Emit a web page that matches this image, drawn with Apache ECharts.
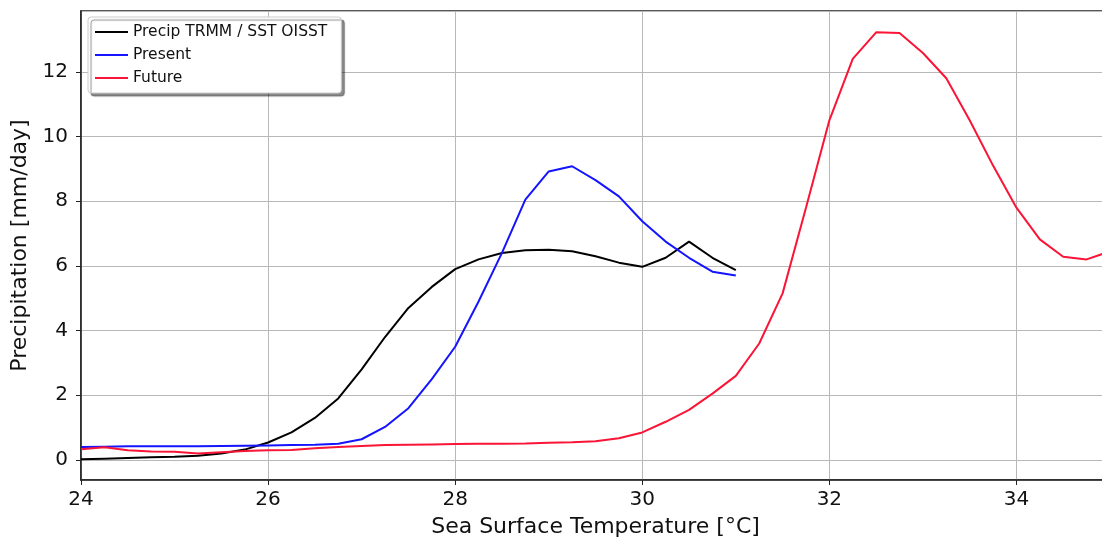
<!DOCTYPE html>
<html>
<head>
<meta charset="utf-8">
<script src="https://cdn.jsdelivr.net/npm/echarts@6/dist/echarts.min.js"></script>
<style>
  html, body { margin: 0; padding: 0; background: #fff; }
  #chart { width: 1102px; height: 543px; }
</style>
</head>
<body>
<div id="chart"></div>
<script>
// SST bins (°C)
var sstObs = [24, 24.25, 24.5, 24.75, 25, 25.25, 25.5, 25.75, 26, 26.25, 26.5, 26.75, 27, 27.25, 27.5, 27.75,
  28, 28.25, 28.5, 28.75, 29, 29.25, 29.5, 29.75, 30, 30.25, 30.5, 30.75, 31];
var sstFuture = [24, 24.25, 24.5, 24.75, 25, 25.25, 25.5, 25.75, 26, 26.25, 26.5, 26.75, 27, 27.25, 27.5, 27.75,
  28, 28.25, 28.5, 28.75, 29, 29.25, 29.5, 29.75, 30, 30.25, 30.5, 30.75, 31, 31.25, 31.5, 31.75,
  32, 32.25, 32.5, 32.75, 33, 33.25, 33.5, 33.75, 34, 34.25, 34.5, 34.75, 35];

// precipitation (mm/day)
var precipTrmm = [0.02, 0.04, 0.06, 0.08, 0.1, 0.13, 0.2, 0.32, 0.54, 0.85, 1.3, 1.9, 2.8, 3.8, 4.7, 5.35,
  5.9, 6.2, 6.4, 6.48, 6.5, 6.45, 6.3, 6.1, 5.97, 6.25, 6.75, 6.25, 5.87];
var precipPresent = [0.4, 0.41, 0.42, 0.42, 0.42, 0.42, 0.43, 0.44, 0.45, 0.46, 0.47, 0.5, 0.64, 1.02, 1.6, 2.5,
  3.5, 4.9, 6.4, 8.05, 8.92, 9.08, 8.65, 8.15, 7.38, 6.75, 6.25, 5.82, 5.7];
var precipFuture = [0.33, 0.39, 0.3, 0.26, 0.25, 0.2, 0.24, 0.28, 0.3, 0.31, 0.36, 0.4, 0.43, 0.46, 0.47, 0.48,
  0.49, 0.5, 0.5, 0.51, 0.53, 0.55, 0.58, 0.67, 0.85, 1.18, 1.55, 2.05, 2.6, 3.6, 5.15, 7.8,
  10.5, 12.4, 13.22, 13.2, 12.58, 11.8, 10.5, 9.1, 7.8, 6.82, 6.28, 6.2, 6.45];

var seriesNames = ['Precip TRMM / SST OISST', 'Present', 'Future'];
var seriesColors = ['#000000', '#1414ff', '#fa1436'];

function pairs(xs, ys) {
  var out = [];
  for (var i = 0; i < ys.length; i++) out.push([xs[i], ys[i]]);
  return out;
}

var font = 'DejaVu Sans';
var chart = echarts.init(document.getElementById('chart'), null, { renderer: 'canvas' });

var option = {
  animation: false,
  backgroundColor: '#fff',
  grid: {
    left: 81, top: 11, right: -8, bottom: 63,
    outerBoundsMode: 'none',
    containLabel: false,
    show: true, borderColor: '#222', borderWidth: 1.5
  },
  legend: {
    orient: 'vertical',
    left: 88, top: 17,
    padding: [7, 14, 7, 7],
    itemGap: 7,
    itemWidth: 33, itemHeight: 2,
    itemTextGap: 11,
    icon: 'rect',
    backgroundColor: '#fff',
    borderColor: '#cccccc', borderWidth: 1, borderRadius: 3,
    shadowColor: 'rgba(0,0,0,0.45)', shadowOffsetX: 3, shadowOffsetY: 3, shadowBlur: 1,
    textStyle: { fontFamily: font, fontSize: 15.5, color: '#111', lineHeight: 16 },
    data: seriesNames
  },
  xAxis: {
    type: 'value', min: 24, max: 35, interval: 2,
    name: 'Sea Surface Temperature [°C]', nameLocation: 'middle', nameGap: 36,
    nameTextStyle: { fontFamily: font, fontSize: 22, color: '#111' },
    axisLine: { onZero: false, lineStyle: { color: '#222', width: 1.5 } },
    axisTick: { show: true, length: 5, lineStyle: { color: '#222' } },
    axisLabel: { fontFamily: font, fontSize: 20, color: '#111', margin: 10, showMaxLabel: false },
    splitLine: { show: true, lineStyle: { color: '#b8b8b8', width: 1 } }
  },
  yAxis: {
    type: 'value', min: -0.62, max: 13.88, splitNumber: 7,
    name: 'Precipitation [mm/day]', nameLocation: 'middle', nameGap: 47,
    nameTextStyle: { fontFamily: font, fontSize: 22, color: '#111' },
    axisLine: { show: true, lineStyle: { color: '#222', width: 1.5 } },
    axisTick: { show: true, length: 5, lineStyle: { color: '#222' } },
    axisLabel: {
      fontFamily: font, fontSize: 20, color: '#111', margin: 13,
      showMinLabel: false, showMaxLabel: false,
      formatter: function (v) { return (Math.abs(v % 2) < 1e-6) ? String(v) : ''; }
    },
    splitLine: { show: true, lineStyle: { color: '#b8b8b8', width: 1 } }
  },
  series: [
    { name: seriesNames[0], type: 'line', data: pairs(sstObs, precipTrmm), showSymbol: false, symbol: 'none',
      lineStyle: { color: seriesColors[0], width: 2 }, itemStyle: { color: seriesColors[0] } },
    { name: seriesNames[1], type: 'line', data: pairs(sstObs, precipPresent), showSymbol: false, symbol: 'none',
      lineStyle: { color: seriesColors[1], width: 2 }, itemStyle: { color: seriesColors[1] } },
    { name: seriesNames[2], type: 'line', data: pairs(sstFuture, precipFuture), showSymbol: false, symbol: 'none',
      lineStyle: { color: seriesColors[2], width: 2 }, itemStyle: { color: seriesColors[2] } }
  ]
};
chart.setOption(option);
</script>
</body>
</html>
